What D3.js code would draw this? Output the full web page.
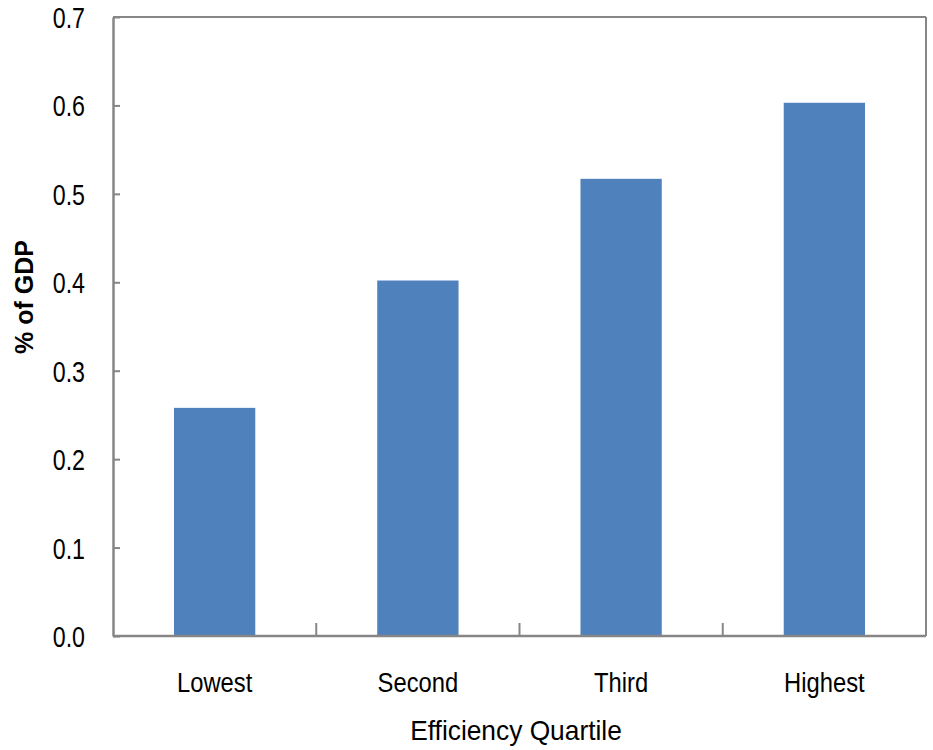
<!DOCTYPE html>
<html>
<head>
<meta charset="utf-8">
<script src="https://cdn.jsdelivr.net/npm/d3@7"></script>
<style>
  html, body { margin: 0; padding: 0; background: #fff; }
  svg { display: block; }
</style>
</head>
<body>
<svg id="chart" width="933" height="750"></svg>
<script>
// Spending by efficiency quartile, % of GDP
const categories = ["Lowest", "Second", "Third", "Highest"];
const values = [0.258, 0.402, 0.517, 0.603];
const yTicks = [0, 0.1, 0.2, 0.3, 0.4, 0.5, 0.6, 0.7];
const yTitle = "% of GDP";
const xTitle = "Efficiency Quartile";

const svg = d3.select("#chart");
const margin = { top: 17, right: 7, bottom: 114, left: 113 };
const W = 933, H = 750;
const innerW = W - margin.left - margin.right;
const innerH = H - margin.top - margin.bottom;

const axisColor = "#868686";
const barColor = "#4f81bd";
const font = "'Liberation Sans', Arial, sans-serif";

const x = d3.scaleBand()
  .domain(categories)
  .range([0, innerW])
  .paddingInner(0.6)
  .paddingOuter(0.3);

const y = d3.scaleLinear().domain([0, 0.7]).range([innerH, 0]);

const g = svg.append("g").attr("transform", `translate(${margin.left},${margin.top})`);

// bars
g.selectAll("rect.bar")
  .data(values)
  .join("rect")
  .attr("class", "bar")
  .attr("x", (d, i) => x(categories[i]))
  .attr("y", d => y(d))
  .attr("width", x.bandwidth())
  .attr("height", d => innerH - y(d))
  .attr("fill", barColor);

// plot frame: top and right edges
g.append("line").attr("x1", 0).attr("x2", innerW).attr("y1", 0).attr("y2", 0)
  .attr("stroke", axisColor).attr("stroke-width", 2);
g.append("line").attr("x1", innerW).attr("x2", innerW).attr("y1", 0).attr("y2", innerH)
  .attr("stroke", axisColor).attr("stroke-width", 2);

// y axis with inward ticks
const yAxis = g.append("g")
  .call(d3.axisLeft(y).tickValues(yTicks).tickFormat(d3.format(".1f")).tickSize(-7).tickSizeOuter(0).tickPadding(28));
yAxis.select(".domain").attr("stroke", axisColor).attr("stroke-width", 2.5);
yAxis.selectAll(".tick line").attr("stroke", axisColor).attr("stroke-width", 2);
yAxis.selectAll(".tick text")
  .attr("font-family", font).attr("font-size", 29).attr("fill", "#000")
  .attr("dy", "0.36em");

// x axis: tick marks at category boundaries, pointing up into the plot
const bounds = d3.range(1, categories.length).map(i => x.step() * i);
g.append("g").selectAll("line")
  .data(bounds)
  .join("line")
  .attr("x1", d => d).attr("x2", d => d)
  .attr("y1", innerH).attr("y2", innerH - 13)
  .attr("stroke", axisColor).attr("stroke-width", 2);
g.append("line").attr("x1", 0).attr("x2", innerW).attr("y1", innerH).attr("y2", innerH)
  .attr("stroke", axisColor).attr("stroke-width", 2.5);

const catLabels = g.append("g").selectAll("text")
  .data(categories)
  .join("text")
  .attr("x", d => x(d) + x.bandwidth() / 2)
  .attr("y", innerH + 56)
  .attr("text-anchor", "middle")
  .attr("font-family", font).attr("font-size", 27).attr("fill", "#000")
  .text(d => d);

// axis titles
svg.append("text")
  .attr("transform", `translate(33,297) rotate(-90)`)
  .attr("text-anchor", "middle")
  .attr("font-family", font).attr("font-size", 25).attr("font-weight", "bold")
  .text(yTitle);

const xTitleText = svg.append("text")
  .attr("x", 516).attr("y", 740)
  .attr("text-anchor", "middle")
  .attr("font-family", font).attr("font-size", 28)
  .text(xTitle);

// condense the regular-weight labels to a narrow face width
function condense(sel, k) {
  sel.each(function () {
    const len = this.getComputedTextLength();
    d3.select(this).attr("textLength", len * k).attr("lengthAdjust", "spacingAndGlyphs");
  });
}
condense(yAxis.selectAll(".tick text"), 0.8);
condense(catLabels, 0.88);
condense(xTitleText, 0.94);
</script>
</body>
</html>
